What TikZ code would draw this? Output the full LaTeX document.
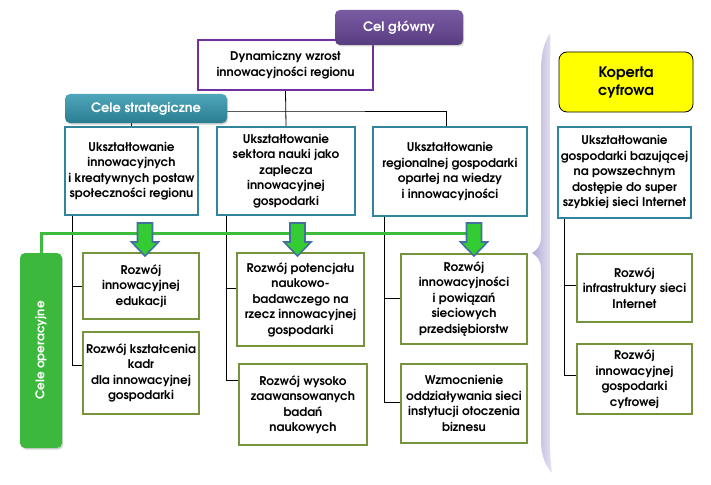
\documentclass[tikz,border=0pt]{standalone}
\usepackage{fontspec}
\setmainfont{texgyreadventor}[Extension=.otf, UprightFont=*-regular, BoldFont=*-bold, ItalicFont=*-italic, BoldItalicFont=*-bolditalic]
\usetikzlibrary{backgrounds,shadows,calc}
\definecolor{mainpurple}{HTML}{7030A0}
\definecolor{hdrpurple}{HTML}{583C80}
\definecolor{hdrpurpleL}{HTML}{7A5CA2}
\definecolor{tealb}{HTML}{31849B}
\definecolor{hdrteal}{HTML}{2A7D90}
\definecolor{hdrtealL}{HTML}{4FA6BA}
\definecolor{olive}{HTML}{77933C}
\definecolor{glinec}{HTML}{3CBB3C}
\definecolor{garrowfill}{HTML}{33CC33}
\definecolor{garrowdraw}{HTML}{41719C}
\definecolor{bracel}{HTML}{B2AAD4}
\definecolor{bracer}{HTML}{E6E3F2}
\definecolor{kyellow}{HTML}{FFFF00}
\definecolor{opsgreen}{HTML}{3CB93C}
\tikzset{
  txt/.style={font=\bfseries\fontsize{12}{15.5}\selectfont, align=center, inner sep=0pt},
  mainbox/.style={txt, draw=mainpurple, line width=1.6pt, fill=white},
  strbox/.style={txt, draw=tealb, line width=1.6pt, fill=white},
  opbox/.style={txt, draw=olive, line width=1.6pt, fill=white},
  hdr/.style={rounded corners=5pt, text=white, font=\bfseries\fontsize{12.5}{14}\selectfont, inner sep=0pt,
    drop shadow={opacity=0.35, shadow xshift=1.2pt, shadow yshift=-1.5pt}},
  conn/.style={draw=black, line width=0.8pt},
  gl/.style={draw=glinec, line width=3pt},
  arrowsty/.style={draw=garrowdraw, fill=garrowfill, line width=1.6pt, line join=miter},
  greenarrow/.pic={\path[arrowsty] (-7.5,0) -- (7.5,0) -- (7.5,19) -- (13.5,19) -- (0,33) -- (-13.5,19) -- (-7.5,19) -- cycle;}
}
\begin{document}
\begin{tikzpicture}[x=1pt,y=-1pt]
\useasboundingbox (0,0) rectangle (711,484);
\begin{scope}[on background layer]
  \fill[white] (0,0) rectangle (711,484);
\end{scope}

% brace
\shade[left color=bracel, right color=bracer]
  (550,33) .. controls (543,45) and (541,55) .. (541,72) -- (541,236)
  .. controls (541,246) and (537,250) .. (532,253)
  .. controls (537,256) and (541,260) .. (541,270) -- (541,440)
  .. controls (541,455) and (545,465) .. (552,473)
  .. controls (551,465) and (550,455) .. (550,440) -- (550,72)
  .. controls (550,55) and (551,45) .. (550,33) -- cycle;

% main goal
\node[mainbox, minimum width=175, minimum height=50] (main) at (285.5,65) {Dynamiczny wzrost\\innowacyjności regionu};
\node[hdr, shade, top color=hdrpurpleL, bottom color=hdrpurple, minimum width=128, minimum height=35, font=\bfseries\fontsize{13}{15}\selectfont] (celg) at (399,27.5) {Cel główny};

% strategic
\node[strbox, minimum width=133, minimum height=88] (s1) at (131.5,171) {Ukształtowanie\\innowacyjnych\\i kreatywnych postaw\\społeczności regionu};
\node[strbox, minimum width=138, minimum height=88] (s2) at (286,171) {Ukształtowanie\\sektora nauki jako\\zaplecza\\innowacyjnej\\gospodarki};
\node[strbox, minimum width=154, minimum height=89] (s3) at (450,171.5) {Ukształtowanie\\regionalnej gospodarki\\opartej na wiedzy\\i innowacyjności};
\node[strbox, minimum width=133, minimum height=91] (s4) at (624.5,172.5) {Ukształtowanie\\gospodarki bazującej\\na powszechnym\\dostępie do super\\szybkiej sieci Internet};

\node[draw=black, line width=0.8pt, fill=kyellow, rounded corners=8pt, minimum width=134, minimum height=60, align=center, font=\bfseries\fontsize{14.5}{18}\selectfont] (kop) at (626,82) {Koperta\\cyfrowa};

\coordinate (hub) at (285.5,111);
\begin{scope}[on background layer]
  \draw[conn] (main.south) -- (s2.north);
  \draw[conn] (s1.north) |- (hub) -| ([xshift=-4pt]s3.north);
\end{scope}

\node[hdr, shade, top color=hdrtealL, bottom color=hdrteal, minimum width=162, minimum height=29, font=\bfseries\fontsize{13}{15}\selectfont] (cs) at (146,108.5) {Cele strategiczne};

% operational
\node[opbox, minimum width=116, minimum height=66] (a1) at (141,286) {Rozwój\\innowacyjnej\\edukacji};
\node[opbox, minimum width=116, minimum height=82] (a2) at (141,373) {Rozwój kształcenia\\kadr\\dla innowacyjnej\\gospodarki};
\node[opbox, minimum width=127, minimum height=93] (b1) at (300.5,299.5) {Rozwój potencjału\\naukowo-\\badawczego na\\rzecz innowacyjnej\\gospodarki};
\node[opbox, minimum width=128, minimum height=81] (b2) at (303,404.5) {Rozwój wysoko\\zaawansowanych\\badań\\naukowych};
\node[opbox, minimum width=126, minimum height=90] (c1) at (464,299) {Rozwój\\innowacyjności\\i powiązań\\sieciowych\\przedsiębiorstw};
\node[opbox, minimum width=126, minimum height=79] (c2) at (464,403.5) {Wzmocnienie\\oddziaływania sieci\\instytucji otoczenia\\biznesu};
\node[opbox, minimum width=115, minimum height=68] (d1) at (634.5,288) {Rozwój\\infrastruktury sieci\\Internet};
\node[opbox, minimum width=115, minimum height=70] (d2) at (634.5,379) {Rozwój\\innowacyjnej\\gospodarki\\cyfrowej};

% connectors strategic -> operational
\begin{scope}[on background layer]
  \draw[conn] ([xshift=8pt]s1.south west) |- (a1.west);
  \draw[conn] ([xshift=8pt]s1.south west) |- ([yshift=8pt]a2.west);
  \draw[conn] ([xshift=10pt]s2.south west) |- ([yshift=11.5pt]b1.west);
  \draw[conn] ([xshift=10pt]s2.south west) |- ([yshift=24.5pt]b2.west);
  \draw[conn] ([xshift=12pt]s3.south west) |- ([yshift=1pt]c1.west);
  \draw[conn] ([xshift=12pt]s3.south west) |- ([yshift=1.5pt]c2.west);
  \draw[conn] ([xshift=7pt]s4.south west) |- ([yshift=3pt]d1.west);
  \draw[conn] ([xshift=7pt]s4.south west) |- ([yshift=4pt]d2.west);
\end{scope}

% operational header
\node[hdr, fill=opsgreen, minimum width=42, minimum height=195] (ops) at (41,350.5) {};
\node[rotate=90, text=white, font=\bfseries\fontsize{12}{14}\selectfont] (opslabel) at (ops.center) {Cele operacyjne};

\coordinate (gend) at (474,233);
\draw[gl] (ops.north) |- (gend);

\pic at (145,223) {greenarrow};
\pic at (297.5,223) {greenarrow};
\pic at (474,223) {greenarrow};
\end{tikzpicture}
\end{document}
